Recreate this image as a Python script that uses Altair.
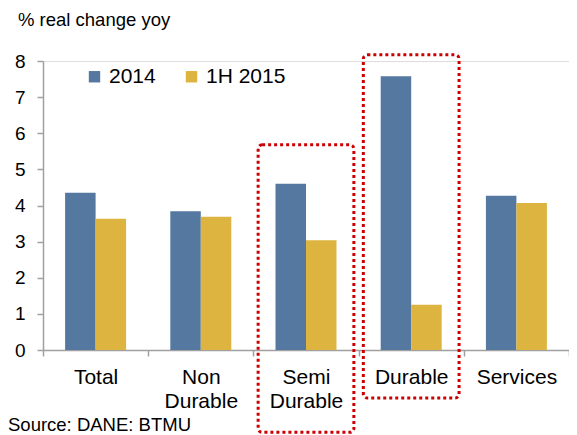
import altair as alt
import pandas as pd

categories = ["Total", "Non Durable", "Semi Durable", "Durable", "Services"]
series = ["2014", "1H 2015"]
v2014 = [4.35, 3.84, 4.60, 7.58, 4.27]
v1h2015 = [3.63, 3.69, 3.04, 1.25, 4.07]
colors = ["#54789f", "#ddb440"]

box_cats = ["Semi Durable", "Durable"]
box_top = [5.68, 8.17]
box_bottom = [-2.28, -1.33]

title_text = "% real change yoy"
source_text = "Source: DANE: BTMU"

FONT = "Liberation Sans"

rows = []
for c, a, b in zip(categories, v2014, v1h2015):
    rows.append({"cat": c, "series": series[0], "value": a})
    rows.append({"cat": c, "series": series[1], "value": b})
df = pd.DataFrame(rows)
boxes = pd.DataFrame({"cat": box_cats, "top": box_top, "bottom": box_bottom})
one = pd.DataFrame({"t": [0]})

xscale = alt.Scale(domain=categories, paddingInner=0, paddingOuter=0)
xaxis = alt.Axis(title=None, labelAngle=0, labelFontSize=21, labelFont=FONT,
                 labelColor="#000", labelPadding=10, labelLineHeight=24,
                 labelExpr="split(datum.label, ' ')", tickBand="extent",
                 tickSize=6, tickColor="#a0a0a0", domainColor="#a0a0a0",
                 tickWidth=1.5, domainWidth=1.5, grid=False)
yscale = alt.Scale(domain=[0, 8], nice=False)
yaxis = alt.Axis(title=None, values=list(range(0, 9)), tickCount=9, labelFontSize=19,
                 labelFont=FONT, labelColor="#000", labelPadding=12,
                 labelOverlap=False, labelFlush=False,
                 tickSize=6, tickColor="#a0a0a0", domainColor="#a0a0a0",
                 tickWidth=1.5, domainWidth=1.5, grid=False)

bars = alt.Chart(df).mark_bar().encode(
    x=alt.X("cat:N", scale=xscale, axis=xaxis, sort=categories),
    xOffset=alt.XOffset("series:N", sort=series,
                        scale=alt.Scale(domain=series, paddingInner=0, paddingOuter=0.725)),
    y=alt.Y("value:Q", scale=yscale, axis=yaxis),
    color=alt.Color("series:N", sort=series,
                    scale=alt.Scale(domain=series, range=colors),
                    legend=alt.Legend(title=None, orient="none", direction="horizontal",
                                      legendX=41, legendY=5, symbolType="square",
                                      symbolSize=130, symbolStrokeWidth=0,
                                      labelFontSize=21, labelFont=FONT, labelColor="#000",
                                      labelOffset=4, columnPadding=25, padding=0)),
)

box = alt.Chart(boxes).mark_bar(
    width=alt.RelativeBandSize(0.91), fillOpacity=0, stroke="#cc0000",
    strokeWidth=3, strokeDash=[3, 3], cornerRadius=4,
).encode(
    x=alt.X("cat:N", scale=xscale, sort=categories, axis=xaxis),
    y=alt.Y("top:Q", scale=yscale, axis=yaxis),
    y2="bottom:Q",
)

title = alt.Chart(one).mark_text(align="left", baseline="alphabetic", fontSize=18.5,
                                 font=FONT, color="#000").encode(
    x=alt.value(-25), y=alt.value(-35), text=alt.value(title_text))

source = alt.Chart(one).mark_text(align="left", baseline="alphabetic", fontSize=18.5,
                                  font=FONT, color="#000").encode(
    x=alt.value(-35), y=alt.value(370), text=alt.value(source_text))

chart = alt.layer(bars, box, title, source).properties(
    width=526, height=289,
    autosize=alt.AutoSizeParams(type="none"),
    padding={"left": 35, "top": 53, "right": 0, "bottom": 85},
).configure_view(stroke=None).configure(font=FONT)

chart.save("out.html", embed_options={"renderer": "svg", "actions": False})
